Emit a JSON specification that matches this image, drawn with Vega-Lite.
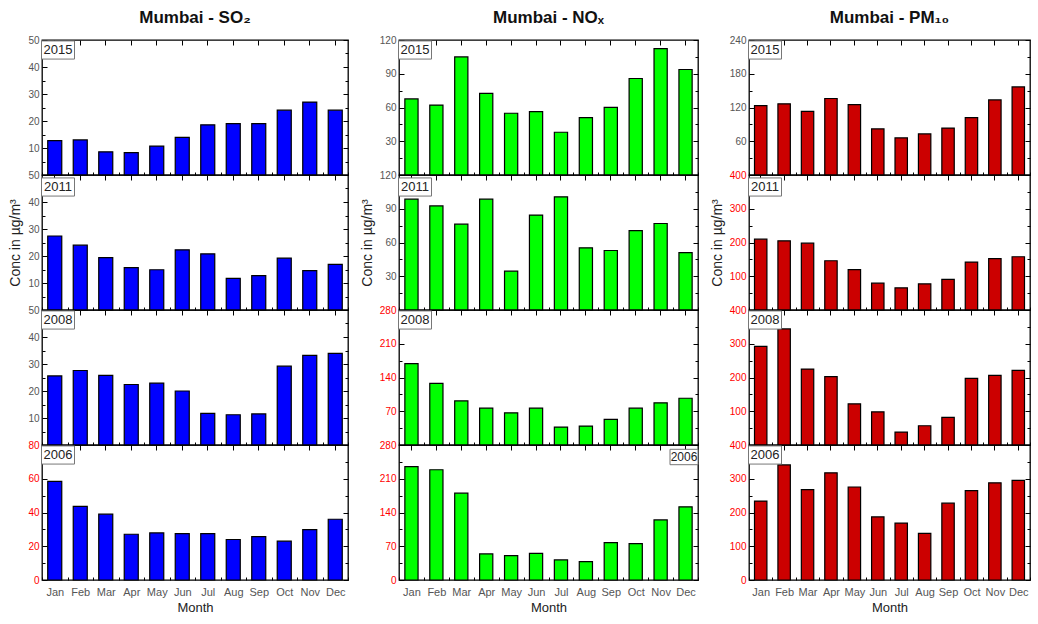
{
"$schema": "https://vega.github.io/schema/vega-lite/v6.json",
"background": "white",
"padding": {"left": 8, "top": 8, "right": 0, "bottom": 0},
"columns": 3,
"spacing": {"row": 0, "column": 51},
"bounds": "flush",
"align": "each",
"config": {
  "view": {"stroke": "#000", "strokeWidth": 1.3},
  "axis": {"domain": false, "grid": false, "labelFont": "Liberation Sans", "labelFontSize": 10, "labelColor": "#555", "tickColor": "#000", "tickWidth": 1, "titleFont": "Liberation Sans", "titleFontWeight": "normal", "titleColor": "#222"},
  "axisX": {"labelAngle": 0},
  "title": {"font": "Liberation Sans", "fontSize": 17, "fontWeight": "bold", "color": "#111", "anchor": "middle", "offset": 8}
},
"datasets": {
  "SO2_2015": [{"month":"Jan","value":12.7},{"month":"Feb","value":13},{"month":"Mar","value":8.6},{"month":"Apr","value":8.3},{"month":"May","value":10.7},{"month":"Jun","value":13.9},{"month":"Jul","value":18.6},{"month":"Aug","value":19},{"month":"Sep","value":19},{"month":"Oct","value":24},{"month":"Nov","value":27},{"month":"Dec","value":24}],
  "SO2_2011": [{"month":"Jan","value":27.4},{"month":"Feb","value":24},{"month":"Mar","value":19.4},{"month":"Apr","value":15.7},{"month":"May","value":14.9},{"month":"Jun","value":22.3},{"month":"Jul","value":20.8},{"month":"Aug","value":11.7},{"month":"Sep","value":12.7},{"month":"Oct","value":19.2},{"month":"Nov","value":14.6},{"month":"Dec","value":16.9}],
  "SO2_2008": [{"month":"Jan","value":25.6},{"month":"Feb","value":27.6},{"month":"Mar","value":25.8},{"month":"Apr","value":22.4},{"month":"May","value":22.9},{"month":"Jun","value":20},{"month":"Jul","value":11.7},{"month":"Aug","value":11.2},{"month":"Sep","value":11.5},{"month":"Oct","value":29.2},{"month":"Nov","value":33.2},{"month":"Dec","value":33.9}],
  "SO2_2006": [{"month":"Jan","value":58.4},{"month":"Feb","value":43.6},{"month":"Mar","value":39},{"month":"Apr","value":27.1},{"month":"May","value":27.9},{"month":"Jun","value":27.5},{"month":"Jul","value":27.5},{"month":"Aug","value":24},{"month":"Sep","value":25.7},{"month":"Oct","value":23},{"month":"Nov","value":29.9},{"month":"Dec","value":36}],
  "NOx_2015": [{"month":"Jan","value":67.6},{"month":"Feb","value":62.2},{"month":"Mar","value":105},{"month":"Apr","value":72.6},{"month":"May","value":54.9},{"month":"Jun","value":56.3},{"month":"Jul","value":38},{"month":"Aug","value":51},{"month":"Sep","value":60.2},{"month":"Oct","value":85.8},{"month":"Nov","value":112.4},{"month":"Dec","value":93.8}],
  "NOx_2011": [{"month":"Jan","value":98.5},{"month":"Feb","value":92.5},{"month":"Mar","value":76.3},{"month":"Apr","value":98.5},{"month":"May","value":34.5},{"month":"Jun","value":84.4},{"month":"Jul","value":100.6},{"month":"Aug","value":55.3},{"month":"Sep","value":52.9},{"month":"Oct","value":70.6},{"month":"Nov","value":76.9},{"month":"Dec","value":51}],
  "NOx_2008": [{"month":"Jan","value":168.6},{"month":"Feb","value":128},{"month":"Mar","value":91.5},{"month":"Apr","value":76.4},{"month":"May","value":66.8},{"month":"Jun","value":76.4},{"month":"Jul","value":37.2},{"month":"Aug","value":39.2},{"month":"Sep","value":53},{"month":"Oct","value":76.4},{"month":"Nov","value":87.4},{"month":"Dec","value":97}],
  "NOx_2006": [{"month":"Jan","value":235},{"month":"Feb","value":228.7},{"month":"Mar","value":180},{"month":"Apr","value":54},{"month":"May","value":50.6},{"month":"Jun","value":55.4},{"month":"Jul","value":41.6},{"month":"Aug","value":38},{"month":"Sep","value":77.6},{"month":"Oct","value":75.5},{"month":"Nov","value":124.7},{"month":"Dec","value":151.8}],
  "PM10_2015": [{"month":"Jan","value":123.5},{"month":"Feb","value":126.5},{"month":"Mar","value":113},{"month":"Apr","value":136},{"month":"May","value":125},{"month":"Jun","value":82},{"month":"Jul","value":66},{"month":"Aug","value":73},{"month":"Sep","value":83.5},{"month":"Oct","value":102},{"month":"Nov","value":133.5},{"month":"Dec","value":156.5}],
  "PM10_2011": [{"month":"Jan","value":209.8},{"month":"Feb","value":205},{"month":"Mar","value":198},{"month":"Apr","value":146},{"month":"May","value":119.6},{"month":"Jun","value":79.4},{"month":"Jul","value":65.7},{"month":"Aug","value":77.5},{"month":"Sep","value":91},{"month":"Oct","value":142},{"month":"Nov","value":152},{"month":"Dec","value":157.8}],
  "PM10_2008": [{"month":"Jan","value":292},{"month":"Feb","value":344},{"month":"Mar","value":225},{"month":"Apr","value":202.5},{"month":"May","value":122},{"month":"Jun","value":98.3},{"month":"Jul","value":38.3},{"month":"Aug","value":57},{"month":"Sep","value":81.6},{"month":"Oct","value":197.5},{"month":"Nov","value":206.4},{"month":"Dec","value":221}],
  "PM10_2006": [{"month":"Jan","value":234},{"month":"Feb","value":341},{"month":"Mar","value":267.6},{"month":"Apr","value":317.6},{"month":"May","value":275.5},{"month":"Jun","value":187},{"month":"Jul","value":168.6},{"month":"Aug","value":138},{"month":"Sep","value":227.5},{"month":"Oct","value":264.7},{"month":"Nov","value":288},{"month":"Dec","value":295}]
},
"concat": [
{"title": {"text": "Mumbai - SO₂"}, "width": 306, "height": 135, "data": {"name": "SO2_2015"},
 "layer": [
  {"mark": {"type": "bar", "width": {"band": 0.55}, "fill": "#0000FF", "stroke": "#000", "strokeWidth": 1.2},
   "encoding": {
    "x": {"field": "month", "type": "nominal", "scale": {"domain": ["Jan","Feb","Mar","Apr","May","Jun","Jul","Aug","Sep","Oct","Nov","Dec"], "paddingInner": 0, "paddingOuter": 0}, "axis": {"orient": "bottom", "title": null, "labels": false, "tickBand": "extent", "tickSize": -3}},
    "y": {"field": "value", "type": "quantitative", "scale": {"domain": [0, 50], "nice": false}, "axis": {"orient": "left", "title": null, "values": [0,5,10,15,20,25,30,35,40,45,50], "labelExpr": "datum.value % 10 === 0 && datum.value > 0 ? datum.label : ''", "tickSize": {"condition": {"test": "datum.value % 10 === 0", "value": -5}, "value": -3}, "labelPadding": 8}}}},
  {"mark": {"type": "bar", "opacity": 0},
   "encoding": {
    "x": {"field": "month", "type": "nominal", "scale": {"domain": ["Jan","Feb","Mar","Apr","May","Jun","Jul","Aug","Sep","Oct","Nov","Dec"], "paddingInner": 0, "paddingOuter": 0}, "axis": {"orient": "top", "title": null, "labels": false, "tickSize": -5}},
    "y": {"field": "value", "type": "quantitative", "scale": {"domain": [0, 50], "nice": false}, "axis": {"orient": "right", "title": null, "labels": false, "values": [0,5,10,15,20,25,30,35,40,45,50], "tickSize": {"condition": {"test": "datum.value % 10 === 0", "value": -5}, "value": -3}}}}},
  {"data": {"values": [{"year": "2015"}]}, "mark": {"type": "point", "shape": "M-1,-0.55H1V0.55H-1Z", "size": 1089, "filled": true, "fill": "#fff", "stroke": "#777", "strokeWidth": 1, "opacity": 1, "xOffset": 16, "yOffset": 10},
   "encoding": {"x": {"datum": "Jan", "type": "nominal", "bandPosition": 0, "axis": null}, "y": {"datum": 50, "type": "quantitative", "axis": null}}},
  {"data": {"values": [{"year": "2015"}]}, "mark": {"type": "text", "align": "center", "baseline": "middle", "fontSize": 13, "font": "Liberation Sans", "fill": "#222", "xOffset": 16, "yOffset": 10},
   "encoding": {"x": {"datum": "Jan", "type": "nominal", "bandPosition": 0, "axis": null}, "y": {"datum": 50, "type": "quantitative", "axis": null}, "text": {"field": "year"}}}
 ],
 "resolve": {"axis": {"x": "independent", "y": "independent"}}},

{"title": {"text": "Mumbai - NOₓ"}, "width": 299, "height": 135, "data": {"name": "NOx_2015"},
 "layer": [
  {"mark": {"type": "bar", "width": {"band": 0.53}, "fill": "#00FF00", "stroke": "#000", "strokeWidth": 1.2},
   "encoding": {
    "x": {"field": "month", "type": "nominal", "scale": {"domain": ["Jan","Feb","Mar","Apr","May","Jun","Jul","Aug","Sep","Oct","Nov","Dec"], "paddingInner": 0, "paddingOuter": 0}, "axis": {"orient": "bottom", "title": null, "labels": false, "tickBand": "extent", "tickSize": -3}},
    "y": {"field": "value", "type": "quantitative", "scale": {"domain": [0, 120], "nice": false}, "axis": {"orient": "left", "title": null, "values": [0,15,30,45,60,75,90,105,120], "labelExpr": "datum.value % 30 === 0 && datum.value > 0 ? datum.label : ''", "tickSize": {"condition": {"test": "datum.value % 30 === 0", "value": -5}, "value": -3}, "labelPadding": 8}}}},
  {"mark": {"type": "bar", "opacity": 0},
   "encoding": {
    "x": {"field": "month", "type": "nominal", "scale": {"domain": ["Jan","Feb","Mar","Apr","May","Jun","Jul","Aug","Sep","Oct","Nov","Dec"], "paddingInner": 0, "paddingOuter": 0}, "axis": {"orient": "top", "title": null, "labels": false, "tickSize": -5}},
    "y": {"field": "value", "type": "quantitative", "scale": {"domain": [0, 120], "nice": false}, "axis": {"orient": "right", "title": null, "labels": false, "values": [0,15,30,45,60,75,90,105,120], "tickSize": {"condition": {"test": "datum.value % 30 === 0", "value": -5}, "value": -3}}}}},
  {"data": {"values": [{"year": "2015"}]}, "mark": {"type": "point", "shape": "M-1,-0.55H1V0.55H-1Z", "size": 1089, "filled": true, "fill": "#fff", "stroke": "#777", "strokeWidth": 1, "opacity": 1, "xOffset": 16, "yOffset": 10},
   "encoding": {"x": {"datum": "Jan", "type": "nominal", "bandPosition": 0, "axis": null}, "y": {"datum": 120, "type": "quantitative", "axis": null}}},
  {"data": {"values": [{"year": "2015"}]}, "mark": {"type": "text", "align": "center", "baseline": "middle", "fontSize": 13, "font": "Liberation Sans", "fill": "#222", "xOffset": 16, "yOffset": 10},
   "encoding": {"x": {"datum": "Jan", "type": "nominal", "bandPosition": 0, "axis": null}, "y": {"datum": 120, "type": "quantitative", "axis": null}, "text": {"field": "year"}}}
 ],
 "resolve": {"axis": {"x": "independent", "y": "independent"}}},

{"title": {"text": "Mumbai - PM₁₀"}, "width": 281, "height": 135, "data": {"name": "PM10_2015"},
 "layer": [
  {"mark": {"type": "bar", "width": {"band": 0.53}, "fill": "#CC0000", "stroke": "#000", "strokeWidth": 1.2},
   "encoding": {
    "x": {"field": "month", "type": "nominal", "scale": {"domain": ["Jan","Feb","Mar","Apr","May","Jun","Jul","Aug","Sep","Oct","Nov","Dec"], "paddingInner": 0, "paddingOuter": 0}, "axis": {"orient": "bottom", "title": null, "labels": false, "tickBand": "extent", "tickSize": -3}},
    "y": {"field": "value", "type": "quantitative", "scale": {"domain": [0, 240], "nice": false}, "axis": {"orient": "left", "title": null, "values": [0,30,60,90,120,150,180,210,240], "labelExpr": "datum.value % 60 === 0 && datum.value > 0 ? datum.label : ''", "tickSize": {"condition": {"test": "datum.value % 60 === 0", "value": -5}, "value": -3}, "labelPadding": 8}}}},
  {"mark": {"type": "bar", "opacity": 0},
   "encoding": {
    "x": {"field": "month", "type": "nominal", "scale": {"domain": ["Jan","Feb","Mar","Apr","May","Jun","Jul","Aug","Sep","Oct","Nov","Dec"], "paddingInner": 0, "paddingOuter": 0}, "axis": {"orient": "top", "title": null, "labels": false, "tickSize": -5}},
    "y": {"field": "value", "type": "quantitative", "scale": {"domain": [0, 240], "nice": false}, "axis": {"orient": "right", "title": null, "labels": false, "values": [0,30,60,90,120,150,180,210,240], "tickSize": {"condition": {"test": "datum.value % 60 === 0", "value": -5}, "value": -3}}}}},
  {"data": {"values": [{"year": "2015"}]}, "mark": {"type": "point", "shape": "M-1,-0.55H1V0.55H-1Z", "size": 1089, "filled": true, "fill": "#fff", "stroke": "#777", "strokeWidth": 1, "opacity": 1, "xOffset": 16, "yOffset": 10},
   "encoding": {"x": {"datum": "Jan", "type": "nominal", "bandPosition": 0, "axis": null}, "y": {"datum": 240, "type": "quantitative", "axis": null}}},
  {"data": {"values": [{"year": "2015"}]}, "mark": {"type": "text", "align": "center", "baseline": "middle", "fontSize": 13, "font": "Liberation Sans", "fill": "#222", "xOffset": 16, "yOffset": 10},
   "encoding": {"x": {"datum": "Jan", "type": "nominal", "bandPosition": 0, "axis": null}, "y": {"datum": 240, "type": "quantitative", "axis": null}, "text": {"field": "year"}}}
 ],
 "resolve": {"axis": {"x": "independent", "y": "independent"}}},

{"width": 306, "height": 135, "data": {"name": "SO2_2011"},
 "layer": [
  {"mark": {"type": "bar", "width": {"band": 0.55}, "fill": "#0000FF", "stroke": "#000", "strokeWidth": 1.2},
   "encoding": {
    "x": {"field": "month", "type": "nominal", "scale": {"domain": ["Jan","Feb","Mar","Apr","May","Jun","Jul","Aug","Sep","Oct","Nov","Dec"], "paddingInner": 0, "paddingOuter": 0}, "axis": {"orient": "bottom", "title": null, "labels": false, "tickBand": "extent", "tickSize": -3}},
    "y": {"field": "value", "type": "quantitative", "scale": {"domain": [0, 50], "nice": false}, "axis": {"orient": "left", "title": "Conc in µg/m³", "titleFontSize": 14, "titlePadding": 5, "values": [0,5,10,15,20,25,30,35,40,45,50], "labelExpr": "datum.value % 10 === 0 && datum.value > 0 ? datum.label : ''", "tickSize": {"condition": {"test": "datum.value % 10 === 0", "value": -5}, "value": -3}, "labelPadding": 8}}}},
  {"mark": {"type": "bar", "opacity": 0},
   "encoding": {
    "x": {"field": "month", "type": "nominal", "scale": {"domain": ["Jan","Feb","Mar","Apr","May","Jun","Jul","Aug","Sep","Oct","Nov","Dec"], "paddingInner": 0, "paddingOuter": 0}, "axis": {"orient": "top", "title": null, "labels": false, "tickSize": -5}},
    "y": {"field": "value", "type": "quantitative", "scale": {"domain": [0, 50], "nice": false}, "axis": {"orient": "right", "title": null, "labels": false, "values": [0,5,10,15,20,25,30,35,40,45,50], "tickSize": {"condition": {"test": "datum.value % 10 === 0", "value": -5}, "value": -3}}}}},
  {"data": {"values": [{"year": "2011"}]}, "mark": {"type": "point", "shape": "M-1,-0.55H1V0.55H-1Z", "size": 1089, "filled": true, "fill": "#fff", "stroke": "#777", "strokeWidth": 1, "opacity": 1, "xOffset": 16, "yOffset": 12},
   "encoding": {"x": {"datum": "Jan", "type": "nominal", "bandPosition": 0, "axis": null}, "y": {"datum": 50, "type": "quantitative", "axis": null}}},
  {"data": {"values": [{"year": "2011"}]}, "mark": {"type": "text", "align": "center", "baseline": "middle", "fontSize": 13, "font": "Liberation Sans", "fill": "#222", "xOffset": 16, "yOffset": 12},
   "encoding": {"x": {"datum": "Jan", "type": "nominal", "bandPosition": 0, "axis": null}, "y": {"datum": 50, "type": "quantitative", "axis": null}, "text": {"field": "year"}}}
 ],
 "resolve": {"axis": {"x": "independent", "y": "independent"}}},

{"width": 299, "height": 135, "data": {"name": "NOx_2011"},
 "layer": [
  {"mark": {"type": "bar", "width": {"band": 0.53}, "fill": "#00FF00", "stroke": "#000", "strokeWidth": 1.2},
   "encoding": {
    "x": {"field": "month", "type": "nominal", "scale": {"domain": ["Jan","Feb","Mar","Apr","May","Jun","Jul","Aug","Sep","Oct","Nov","Dec"], "paddingInner": 0, "paddingOuter": 0}, "axis": {"orient": "bottom", "title": null, "labels": false, "tickBand": "extent", "tickSize": -3}},
    "y": {"field": "value", "type": "quantitative", "scale": {"domain": [0, 120], "nice": false}, "axis": {"orient": "left", "title": "Conc in µg/m³", "titleFontSize": 14, "titlePadding": 5, "values": [0,15,30,45,60,75,90,105,120], "labelExpr": "datum.value % 30 === 0 && datum.value > 0 ? datum.label : ''", "tickSize": {"condition": {"test": "datum.value % 30 === 0", "value": -5}, "value": -3}, "labelPadding": 8}}}},
  {"mark": {"type": "bar", "opacity": 0},
   "encoding": {
    "x": {"field": "month", "type": "nominal", "scale": {"domain": ["Jan","Feb","Mar","Apr","May","Jun","Jul","Aug","Sep","Oct","Nov","Dec"], "paddingInner": 0, "paddingOuter": 0}, "axis": {"orient": "top", "title": null, "labels": false, "tickSize": -5}},
    "y": {"field": "value", "type": "quantitative", "scale": {"domain": [0, 120], "nice": false}, "axis": {"orient": "right", "title": null, "labels": false, "values": [0,15,30,45,60,75,90,105,120], "tickSize": {"condition": {"test": "datum.value % 30 === 0", "value": -5}, "value": -3}}}}},
  {"data": {"values": [{"year": "2011"}]}, "mark": {"type": "point", "shape": "M-1,-0.55H1V0.55H-1Z", "size": 1089, "filled": true, "fill": "#fff", "stroke": "#777", "strokeWidth": 1, "opacity": 1, "xOffset": 16, "yOffset": 12},
   "encoding": {"x": {"datum": "Jan", "type": "nominal", "bandPosition": 0, "axis": null}, "y": {"datum": 120, "type": "quantitative", "axis": null}}},
  {"data": {"values": [{"year": "2011"}]}, "mark": {"type": "text", "align": "center", "baseline": "middle", "fontSize": 13, "font": "Liberation Sans", "fill": "#222", "xOffset": 16, "yOffset": 12},
   "encoding": {"x": {"datum": "Jan", "type": "nominal", "bandPosition": 0, "axis": null}, "y": {"datum": 120, "type": "quantitative", "axis": null}, "text": {"field": "year"}}}
 ],
 "resolve": {"axis": {"x": "independent", "y": "independent"}}},

{"width": 281, "height": 135, "data": {"name": "PM10_2011"},
 "layer": [
  {"mark": {"type": "bar", "width": {"band": 0.53}, "fill": "#CC0000", "stroke": "#000", "strokeWidth": 1.2},
   "encoding": {
    "x": {"field": "month", "type": "nominal", "scale": {"domain": ["Jan","Feb","Mar","Apr","May","Jun","Jul","Aug","Sep","Oct","Nov","Dec"], "paddingInner": 0, "paddingOuter": 0}, "axis": {"orient": "bottom", "title": null, "labels": false, "tickBand": "extent", "tickSize": -3}},
    "y": {"field": "value", "type": "quantitative", "scale": {"domain": [0, 400], "nice": false}, "axis": {"orient": "left", "title": "Conc in µg/m³", "titleFontSize": 14, "titlePadding": 5, "labelColor": "#FF0000", "values": [0,50,100,150,200,250,300,350,400], "labelExpr": "datum.value % 100 === 0 && datum.value > 0 ? datum.label : ''", "tickSize": {"condition": {"test": "datum.value % 100 === 0", "value": -5}, "value": -3}, "labelPadding": 8}}}},
  {"mark": {"type": "bar", "opacity": 0},
   "encoding": {
    "x": {"field": "month", "type": "nominal", "scale": {"domain": ["Jan","Feb","Mar","Apr","May","Jun","Jul","Aug","Sep","Oct","Nov","Dec"], "paddingInner": 0, "paddingOuter": 0}, "axis": {"orient": "top", "title": null, "labels": false, "tickSize": -5}},
    "y": {"field": "value", "type": "quantitative", "scale": {"domain": [0, 400], "nice": false}, "axis": {"orient": "right", "title": null, "labels": false, "values": [0,50,100,150,200,250,300,350,400], "tickSize": {"condition": {"test": "datum.value % 100 === 0", "value": -5}, "value": -3}}}}},
  {"data": {"values": [{"year": "2011"}]}, "mark": {"type": "point", "shape": "M-1,-0.55H1V0.55H-1Z", "size": 1089, "filled": true, "fill": "#fff", "stroke": "#777", "strokeWidth": 1, "opacity": 1, "xOffset": 16, "yOffset": 12},
   "encoding": {"x": {"datum": "Jan", "type": "nominal", "bandPosition": 0, "axis": null}, "y": {"datum": 400, "type": "quantitative", "axis": null}}},
  {"data": {"values": [{"year": "2011"}]}, "mark": {"type": "text", "align": "center", "baseline": "middle", "fontSize": 13, "font": "Liberation Sans", "fill": "#222", "xOffset": 16, "yOffset": 12},
   "encoding": {"x": {"datum": "Jan", "type": "nominal", "bandPosition": 0, "axis": null}, "y": {"datum": 400, "type": "quantitative", "axis": null}, "text": {"field": "year"}}}
 ],
 "resolve": {"axis": {"x": "independent", "y": "independent"}}},

{"width": 306, "height": 135, "data": {"name": "SO2_2008"},
 "layer": [
  {"mark": {"type": "bar", "width": {"band": 0.55}, "fill": "#0000FF", "stroke": "#000", "strokeWidth": 1.2},
   "encoding": {
    "x": {"field": "month", "type": "nominal", "scale": {"domain": ["Jan","Feb","Mar","Apr","May","Jun","Jul","Aug","Sep","Oct","Nov","Dec"], "paddingInner": 0, "paddingOuter": 0}, "axis": {"orient": "bottom", "title": null, "labels": false, "tickBand": "extent", "tickSize": -3}},
    "y": {"field": "value", "type": "quantitative", "scale": {"domain": [0, 50], "nice": false}, "axis": {"orient": "left", "title": null, "values": [0,5,10,15,20,25,30,35,40,45,50], "labelExpr": "datum.value % 10 === 0 && datum.value > 0 ? datum.label : ''", "tickSize": {"condition": {"test": "datum.value % 10 === 0", "value": -5}, "value": -3}, "labelPadding": 8}}}},
  {"mark": {"type": "bar", "opacity": 0},
   "encoding": {
    "x": {"field": "month", "type": "nominal", "scale": {"domain": ["Jan","Feb","Mar","Apr","May","Jun","Jul","Aug","Sep","Oct","Nov","Dec"], "paddingInner": 0, "paddingOuter": 0}, "axis": {"orient": "top", "title": null, "labels": false, "tickSize": -5}},
    "y": {"field": "value", "type": "quantitative", "scale": {"domain": [0, 50], "nice": false}, "axis": {"orient": "right", "title": null, "labels": false, "values": [0,5,10,15,20,25,30,35,40,45,50], "tickSize": {"condition": {"test": "datum.value % 10 === 0", "value": -5}, "value": -3}}}}},
  {"data": {"values": [{"year": "2008"}]}, "mark": {"type": "point", "shape": "M-1,-0.55H1V0.55H-1Z", "size": 1089, "filled": true, "fill": "#fff", "stroke": "#777", "strokeWidth": 1, "opacity": 1, "xOffset": 16, "yOffset": 10},
   "encoding": {"x": {"datum": "Jan", "type": "nominal", "bandPosition": 0, "axis": null}, "y": {"datum": 50, "type": "quantitative", "axis": null}}},
  {"data": {"values": [{"year": "2008"}]}, "mark": {"type": "text", "align": "center", "baseline": "middle", "fontSize": 13, "font": "Liberation Sans", "fill": "#222", "xOffset": 16, "yOffset": 10},
   "encoding": {"x": {"datum": "Jan", "type": "nominal", "bandPosition": 0, "axis": null}, "y": {"datum": 50, "type": "quantitative", "axis": null}, "text": {"field": "year"}}}
 ],
 "resolve": {"axis": {"x": "independent", "y": "independent"}}},

{"width": 299, "height": 135, "data": {"name": "NOx_2008"},
 "layer": [
  {"mark": {"type": "bar", "width": {"band": 0.53}, "fill": "#00FF00", "stroke": "#000", "strokeWidth": 1.2},
   "encoding": {
    "x": {"field": "month", "type": "nominal", "scale": {"domain": ["Jan","Feb","Mar","Apr","May","Jun","Jul","Aug","Sep","Oct","Nov","Dec"], "paddingInner": 0, "paddingOuter": 0}, "axis": {"orient": "bottom", "title": null, "labels": false, "tickBand": "extent", "tickSize": -3}},
    "y": {"field": "value", "type": "quantitative", "scale": {"domain": [0, 280], "nice": false}, "axis": {"orient": "left", "title": null, "labelColor": "#FF0000", "values": [0,35,70,105,140,175,210,245,280], "labelExpr": "datum.value % 70 === 0 && datum.value > 0 ? datum.label : ''", "tickSize": {"condition": {"test": "datum.value % 70 === 0", "value": -5}, "value": -3}, "labelPadding": 8}}}},
  {"mark": {"type": "bar", "opacity": 0},
   "encoding": {
    "x": {"field": "month", "type": "nominal", "scale": {"domain": ["Jan","Feb","Mar","Apr","May","Jun","Jul","Aug","Sep","Oct","Nov","Dec"], "paddingInner": 0, "paddingOuter": 0}, "axis": {"orient": "top", "title": null, "labels": false, "tickSize": -5}},
    "y": {"field": "value", "type": "quantitative", "scale": {"domain": [0, 280], "nice": false}, "axis": {"orient": "right", "title": null, "labels": false, "values": [0,35,70,105,140,175,210,245,280], "tickSize": {"condition": {"test": "datum.value % 70 === 0", "value": -5}, "value": -3}}}}},
  {"data": {"values": [{"year": "2008"}]}, "mark": {"type": "point", "shape": "M-1,-0.55H1V0.55H-1Z", "size": 1089, "filled": true, "fill": "#fff", "stroke": "#777", "strokeWidth": 1, "opacity": 1, "xOffset": 16, "yOffset": 10},
   "encoding": {"x": {"datum": "Jan", "type": "nominal", "bandPosition": 0, "axis": null}, "y": {"datum": 280, "type": "quantitative", "axis": null}}},
  {"data": {"values": [{"year": "2008"}]}, "mark": {"type": "text", "align": "center", "baseline": "middle", "fontSize": 13, "font": "Liberation Sans", "fill": "#222", "xOffset": 16, "yOffset": 10},
   "encoding": {"x": {"datum": "Jan", "type": "nominal", "bandPosition": 0, "axis": null}, "y": {"datum": 280, "type": "quantitative", "axis": null}, "text": {"field": "year"}}}
 ],
 "resolve": {"axis": {"x": "independent", "y": "independent"}}},

{"width": 281, "height": 135, "data": {"name": "PM10_2008"},
 "layer": [
  {"mark": {"type": "bar", "width": {"band": 0.53}, "fill": "#CC0000", "stroke": "#000", "strokeWidth": 1.2},
   "encoding": {
    "x": {"field": "month", "type": "nominal", "scale": {"domain": ["Jan","Feb","Mar","Apr","May","Jun","Jul","Aug","Sep","Oct","Nov","Dec"], "paddingInner": 0, "paddingOuter": 0}, "axis": {"orient": "bottom", "title": null, "labels": false, "tickBand": "extent", "tickSize": -3}},
    "y": {"field": "value", "type": "quantitative", "scale": {"domain": [0, 400], "nice": false}, "axis": {"orient": "left", "title": null, "labelColor": "#FF0000", "values": [0,50,100,150,200,250,300,350,400], "labelExpr": "datum.value % 100 === 0 && datum.value > 0 ? datum.label : ''", "tickSize": {"condition": {"test": "datum.value % 100 === 0", "value": -5}, "value": -3}, "labelPadding": 8}}}},
  {"mark": {"type": "bar", "opacity": 0},
   "encoding": {
    "x": {"field": "month", "type": "nominal", "scale": {"domain": ["Jan","Feb","Mar","Apr","May","Jun","Jul","Aug","Sep","Oct","Nov","Dec"], "paddingInner": 0, "paddingOuter": 0}, "axis": {"orient": "top", "title": null, "labels": false, "tickSize": -5}},
    "y": {"field": "value", "type": "quantitative", "scale": {"domain": [0, 400], "nice": false}, "axis": {"orient": "right", "title": null, "labels": false, "values": [0,50,100,150,200,250,300,350,400], "tickSize": {"condition": {"test": "datum.value % 100 === 0", "value": -5}, "value": -3}}}}},
  {"data": {"values": [{"year": "2008"}]}, "mark": {"type": "point", "shape": "M-1,-0.55H1V0.55H-1Z", "size": 1089, "filled": true, "fill": "#fff", "stroke": "#777", "strokeWidth": 1, "opacity": 1, "xOffset": 16, "yOffset": 10},
   "encoding": {"x": {"datum": "Jan", "type": "nominal", "bandPosition": 0, "axis": null}, "y": {"datum": 400, "type": "quantitative", "axis": null}}},
  {"data": {"values": [{"year": "2008"}]}, "mark": {"type": "text", "align": "center", "baseline": "middle", "fontSize": 13, "font": "Liberation Sans", "fill": "#222", "xOffset": 16, "yOffset": 10},
   "encoding": {"x": {"datum": "Jan", "type": "nominal", "bandPosition": 0, "axis": null}, "y": {"datum": 400, "type": "quantitative", "axis": null}, "text": {"field": "year"}}}
 ],
 "resolve": {"axis": {"x": "independent", "y": "independent"}}},

{"width": 306, "height": 135, "data": {"name": "SO2_2006"},
 "layer": [
  {"mark": {"type": "bar", "width": {"band": 0.55}, "fill": "#0000FF", "stroke": "#000", "strokeWidth": 1.2},
   "encoding": {
    "x": {"field": "month", "type": "nominal", "scale": {"domain": ["Jan","Feb","Mar","Apr","May","Jun","Jul","Aug","Sep","Oct","Nov","Dec"], "paddingInner": 0, "paddingOuter": 0}, "axis": {"orient": "bottom", "title": "Month", "titleFontSize": 13, "titlePadding": 4, "labelAngle": 0, "labelFontSize": 11, "labelPadding": 9, "tickBand": "extent", "tickSize": -3}},
    "y": {"field": "value", "type": "quantitative", "scale": {"domain": [0, 80], "nice": false}, "axis": {"orient": "left", "title": null, "labelColor": "#FF0000", "values": [0,10,20,30,40,50,60,70,80], "labelExpr": "datum.value % 20 === 0 ? datum.label : ''", "tickSize": {"condition": {"test": "datum.value % 20 === 0", "value": -5}, "value": -3}, "labelPadding": 8}}}},
  {"mark": {"type": "bar", "opacity": 0},
   "encoding": {
    "x": {"field": "month", "type": "nominal", "scale": {"domain": ["Jan","Feb","Mar","Apr","May","Jun","Jul","Aug","Sep","Oct","Nov","Dec"], "paddingInner": 0, "paddingOuter": 0}, "axis": {"orient": "top", "title": null, "labels": false, "tickSize": -5}},
    "y": {"field": "value", "type": "quantitative", "scale": {"domain": [0, 80], "nice": false}, "axis": {"orient": "right", "title": null, "labels": false, "values": [0,10,20,30,40,50,60,70,80], "tickSize": {"condition": {"test": "datum.value % 20 === 0", "value": -5}, "value": -3}}}}},
  {"data": {"values": [{"year": "2006"}]}, "mark": {"type": "point", "shape": "M-1,-0.55H1V0.55H-1Z", "size": 1089, "filled": true, "fill": "#fff", "stroke": "#777", "strokeWidth": 1, "opacity": 1, "xOffset": 16, "yOffset": 10},
   "encoding": {"x": {"datum": "Jan", "type": "nominal", "bandPosition": 0, "axis": null}, "y": {"datum": 80, "type": "quantitative", "axis": null}}},
  {"data": {"values": [{"year": "2006"}]}, "mark": {"type": "text", "align": "center", "baseline": "middle", "fontSize": 13, "font": "Liberation Sans", "fill": "#222", "xOffset": 16, "yOffset": 10},
   "encoding": {"x": {"datum": "Jan", "type": "nominal", "bandPosition": 0, "axis": null}, "y": {"datum": 80, "type": "quantitative", "axis": null}, "text": {"field": "year"}}}
 ],
 "resolve": {"axis": {"x": "independent", "y": "independent"}}},

{"width": 299, "height": 135, "data": {"name": "NOx_2006"},
 "layer": [
  {"mark": {"type": "bar", "width": {"band": 0.53}, "fill": "#00FF00", "stroke": "#000", "strokeWidth": 1.2},
   "encoding": {
    "x": {"field": "month", "type": "nominal", "scale": {"domain": ["Jan","Feb","Mar","Apr","May","Jun","Jul","Aug","Sep","Oct","Nov","Dec"], "paddingInner": 0, "paddingOuter": 0}, "axis": {"orient": "bottom", "title": "Month", "titleFontSize": 13, "titlePadding": 4, "labelAngle": 0, "labelFontSize": 11, "labelPadding": 9, "tickBand": "extent", "tickSize": -3}},
    "y": {"field": "value", "type": "quantitative", "scale": {"domain": [0, 280], "nice": false}, "axis": {"orient": "left", "title": null, "labelColor": "#FF0000", "values": [0,35,70,105,140,175,210,245,280], "labelExpr": "datum.value % 70 === 0 ? datum.label : ''", "tickSize": {"condition": {"test": "datum.value % 70 === 0", "value": -5}, "value": -3}, "labelPadding": 8}}}},
  {"mark": {"type": "bar", "opacity": 0},
   "encoding": {
    "x": {"field": "month", "type": "nominal", "scale": {"domain": ["Jan","Feb","Mar","Apr","May","Jun","Jul","Aug","Sep","Oct","Nov","Dec"], "paddingInner": 0, "paddingOuter": 0}, "axis": {"orient": "top", "title": null, "labels": false, "tickSize": -5}},
    "y": {"field": "value", "type": "quantitative", "scale": {"domain": [0, 280], "nice": false}, "axis": {"orient": "right", "title": null, "labels": false, "values": [0,35,70,105,140,175,210,245,280], "tickSize": {"condition": {"test": "datum.value % 70 === 0", "value": -5}, "value": -3}}}}},
  {"data": {"values": [{"year": "2006"}]}, "mark": {"type": "point", "shape": "M-1,-0.55H1V0.55H-1Z", "size": 784, "filled": true, "fill": "#fff", "stroke": "#777", "strokeWidth": 1, "opacity": 1, "xOffset": -14, "yOffset": 12},
   "encoding": {"x": {"datum": "Dec", "type": "nominal", "bandPosition": 1, "axis": null}, "y": {"datum": 280, "type": "quantitative", "axis": null}}},
  {"data": {"values": [{"year": "2006"}]}, "mark": {"type": "text", "align": "center", "baseline": "middle", "fontSize": 12, "font": "Liberation Sans", "fill": "#222", "xOffset": -14, "yOffset": 12},
   "encoding": {"x": {"datum": "Dec", "type": "nominal", "bandPosition": 1, "axis": null}, "y": {"datum": 280, "type": "quantitative", "axis": null}, "text": {"field": "year"}}}
 ],
 "resolve": {"axis": {"x": "independent", "y": "independent"}}},

{"width": 281, "height": 135, "data": {"name": "PM10_2006"},
 "layer": [
  {"mark": {"type": "bar", "width": {"band": 0.53}, "fill": "#CC0000", "stroke": "#000", "strokeWidth": 1.2},
   "encoding": {
    "x": {"field": "month", "type": "nominal", "scale": {"domain": ["Jan","Feb","Mar","Apr","May","Jun","Jul","Aug","Sep","Oct","Nov","Dec"], "paddingInner": 0, "paddingOuter": 0}, "axis": {"orient": "bottom", "title": "Month", "titleFontSize": 13, "titlePadding": 4, "labelAngle": 0, "labelFontSize": 11, "labelPadding": 9, "tickBand": "extent", "tickSize": -3}},
    "y": {"field": "value", "type": "quantitative", "scale": {"domain": [0, 400], "nice": false}, "axis": {"orient": "left", "title": null, "labelColor": "#FF0000", "values": [0,50,100,150,200,250,300,350,400], "labelExpr": "datum.value % 100 === 0 ? datum.label : ''", "tickSize": {"condition": {"test": "datum.value % 100 === 0", "value": -5}, "value": -3}, "labelPadding": 8}}}},
  {"mark": {"type": "bar", "opacity": 0},
   "encoding": {
    "x": {"field": "month", "type": "nominal", "scale": {"domain": ["Jan","Feb","Mar","Apr","May","Jun","Jul","Aug","Sep","Oct","Nov","Dec"], "paddingInner": 0, "paddingOuter": 0}, "axis": {"orient": "top", "title": null, "labels": false, "tickSize": -5}},
    "y": {"field": "value", "type": "quantitative", "scale": {"domain": [0, 400], "nice": false}, "axis": {"orient": "right", "title": null, "labels": false, "values": [0,50,100,150,200,250,300,350,400], "tickSize": {"condition": {"test": "datum.value % 100 === 0", "value": -5}, "value": -3}}}}},
  {"data": {"values": [{"year": "2006"}]}, "mark": {"type": "point", "shape": "M-1,-0.55H1V0.55H-1Z", "size": 1089, "filled": true, "fill": "#fff", "stroke": "#777", "strokeWidth": 1, "opacity": 1, "xOffset": 16, "yOffset": 10},
   "encoding": {"x": {"datum": "Jan", "type": "nominal", "bandPosition": 0, "axis": null}, "y": {"datum": 400, "type": "quantitative", "axis": null}}},
  {"data": {"values": [{"year": "2006"}]}, "mark": {"type": "text", "align": "center", "baseline": "middle", "fontSize": 13, "font": "Liberation Sans", "fill": "#222", "xOffset": 16, "yOffset": 10},
   "encoding": {"x": {"datum": "Jan", "type": "nominal", "bandPosition": 0, "axis": null}, "y": {"datum": 400, "type": "quantitative", "axis": null}, "text": {"field": "year"}}}
 ],
 "resolve": {"axis": {"x": "independent", "y": "independent"}}}
]
}
